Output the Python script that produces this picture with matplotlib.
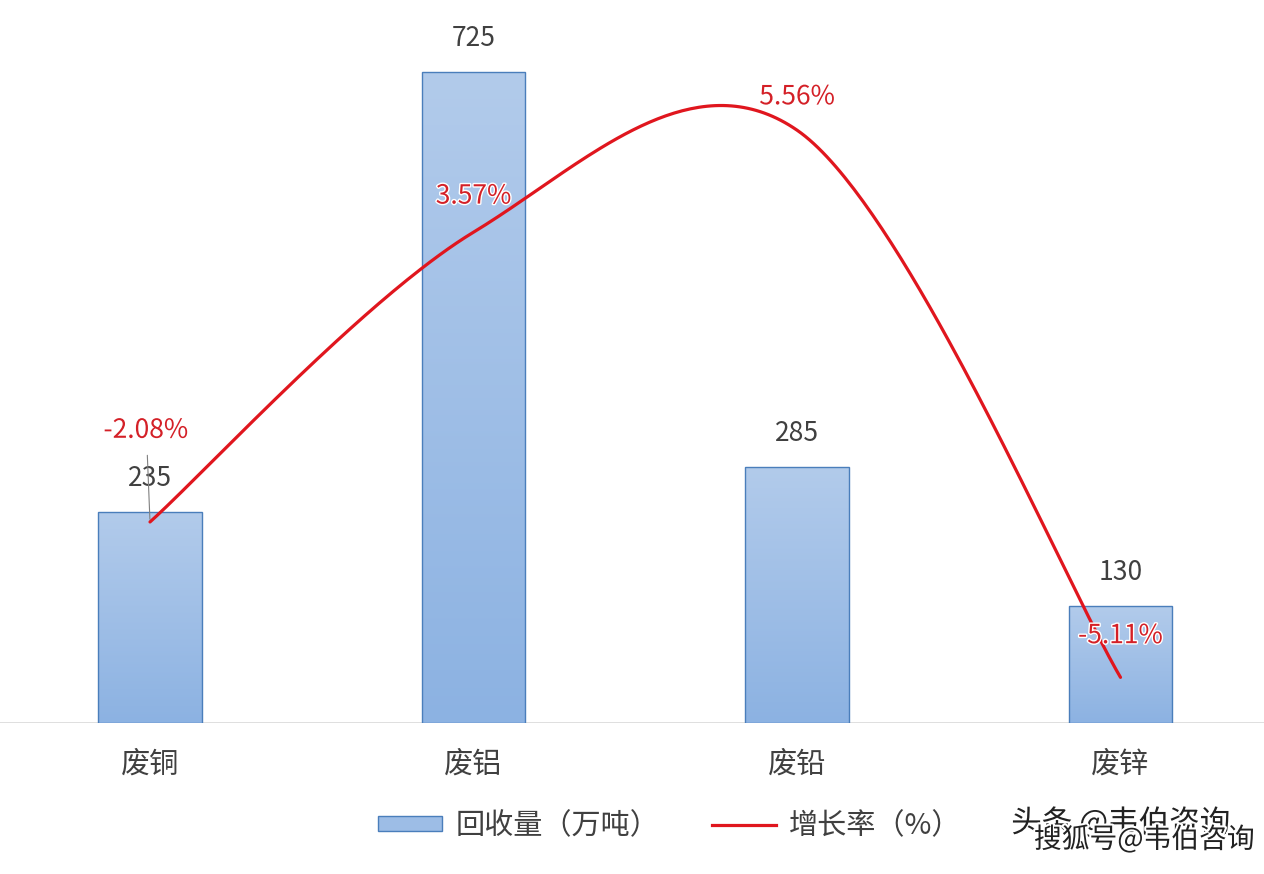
import matplotlib
matplotlib.use("Agg")
import matplotlib.pyplot as plt
import matplotlib.patheffects as pe
import numpy as np

plt.rcParams['font.family'] = ['Noto Sans CJK SC', 'DejaVu Sans']

# Données
categories = ['废铜', '废铝', '废铅', '废锌']
recovery = [235, 725, 285, 130]          # 回收量（万吨）
growth = [-2.08, 3.57, 5.56, -5.11]      # 增长率（%）
growth_labels = ['-2.08%', '3.57%', '5.56%', '-5.11%']

bar_top = '#B2CBEB'
bar_bottom = '#8CB2E2'
bar_edge = '#4A7EBB'
line_color = '#E0161E'
text_gray = '#404040'

fig = plt.figure(figsize=(12.64, 8.74), dpi=100)
ax = fig.add_axes([0, 1 - 723 / 874, 1, 718 / 874])
ax2 = ax.twinx()

x = np.arange(len(categories))

# barres avec dégradé
bars = ax.bar(x, recovery, width=0.32, color='none', edgecolor=bar_edge, linewidth=1, zorder=3)
grad = np.linspace(0, 1, 256).reshape(-1, 1)
cmap = matplotlib.colors.LinearSegmentedColormap.from_list('g', [bar_bottom, bar_top])
for b in bars:
    im = ax.imshow(grad, extent=[b.get_x(), b.get_x() + b.get_width(), 0, b.get_height()],
                   origin='lower', cmap=cmap, aspect='auto', zorder=2)
    im.set_clip_path(b)
ax.set_aspect('auto')
ax.set_xlim(-150 / 323.5, (1264 - 150) / 323.5)
ax.set_ylim(0, 800)
ax2.set_ylim(-6, 8)

for xi, v in zip(x, recovery):
    ax.annotate(str(v), (xi, v), xytext=(0, 24.5), textcoords='offset points',
                ha='center', va='center', fontsize=19, color=text_gray, zorder=5)

# courbe lissée (style Excel : Bézier passant par les points)
pts = np.column_stack([x, growth]).astype(float)
ext = np.vstack([pts[0], pts, pts[-1]])
t = np.linspace(0, 1, 80)[:, None]
curve = []
for i in range(len(pts) - 1):
    p0, p1 = ext[i + 1], ext[i + 2]
    c1 = p0 + (ext[i + 2] - ext[i]) / 6
    c2 = p1 - (ext[i + 3] - ext[i + 1]) / 6
    seg = (1 - t) ** 3 * p0 + 3 * t * (1 - t) ** 2 * c1 + 3 * t ** 2 * (1 - t) * c2 + t ** 3 * p1
    curve.append(seg)
curve = np.vstack(curve)
ax2.plot(curve[:, 0], curve[:, 1], color=line_color, lw=2.3, zorder=4, solid_capstyle='round')

label_offsets = [(-3, 66), (0, 26), (0, 24), (0, 30)]
for xi, v, lab, off in zip(x, growth, growth_labels, label_offsets):
    ax2.annotate(lab, (xi, v), xytext=off, textcoords='offset points',
                 ha='center', va='center', fontsize=19, color='#D42027', zorder=6,
                 path_effects=[pe.withStroke(linewidth=2, foreground='white')])
# trait de rappel pour -2.08%
ax2.annotate('', (x[0], growth[0]), xytext=(-2, 50), textcoords='offset points',
             arrowprops=dict(arrowstyle='-', color='#808080', lw=0.8))

for a in (ax, ax2):
    for s in a.spines.values():
        s.set_visible(False)
    a.set_yticks([])
ax.axhline(0, color='#D9D9D9', lw=1.2, zorder=1)
ax.set_xticks(x)
ax.set_xticklabels(categories, fontsize=21, color=text_gray)
ax.tick_params(axis='x', length=0, pad=19)

# légende
handles = [matplotlib.patches.Patch(facecolor='#9DBDE6', edgecolor=bar_edge),
           matplotlib.lines.Line2D([], [], color=line_color, lw=2.3)]
fig.legend(handles, ['回收量（万吨）', '增长率（%）'], loc='center', bbox_to_anchor=(0.53, 0.055),
           ncol=2, frameon=False, fontsize=21, handlelength=2.2, handleheight=0.45,
           handletextpad=0.45, columnspacing=1.8, labelcolor=text_gray)

# filigranes
fig.text(0.8, 0.048, '头条 @韦伯咨询', fontsize=22, color='#222222',
         path_effects=[pe.withStroke(linewidth=3, foreground='white')])
fig.text(0.818, 0.03, '搜狐号@韦伯咨询', fontsize=20, color='#222222',
         path_effects=[pe.withStroke(linewidth=3, foreground='white')])

fig.savefig('out.png', dpi=100, facecolor='white')
